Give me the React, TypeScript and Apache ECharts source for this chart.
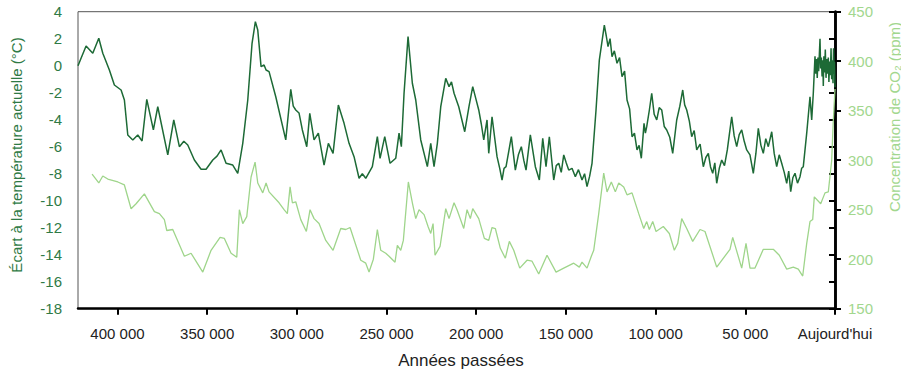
import React, { useEffect, useRef } from "react";
import * as echarts from "echarts";

// Temperature anomaly (°C) vs years before present
const tempYears = [
  422000, 417500, 413760, 410410, 408180, 404510, 401720, 397980, 396140, 394250,
  391460, 388680, 386280, 383660, 379980, 377530, 371950, 368610, 365490, 363000,
  360810, 357130, 353390, 350600, 346870, 344500, 342240, 339460, 335720, 332940,
  330150, 327360, 324970, 323120, 321790, 319950, 318280, 317160, 315490, 311750,
  306180, 303390, 302000, 300610, 298800, 296930, 294480, 292800, 290410, 288010,
  284830, 282430, 279810, 276860, 273680, 270900, 268110, 265320, 263500, 261590,
  257910, 255120, 253620, 251000, 248040, 244870, 243030, 241740, 240240, 238010,
  235610, 233720, 230930, 227250, 225360, 223520, 221680, 219780, 217000, 215160,
  213800, 212370, 209750, 206410, 204000, 201950, 200300, 198600, 197200, 195810,
  193980, 193030, 191190, 188400, 186900, 185610, 184500, 183380, 180430, 178200,
  176500, 174860, 173500, 172240, 169840, 167050, 164820, 162930, 161090, 159250,
  156800, 155400, 154010, 152600, 151220, 149800, 148440, 146600, 144760, 143000,
  141020, 139600, 138240, 136800, 135450, 133220, 131380, 128590, 127500, 126530,
  125400, 124300, 123000, 121510, 120100, 118730, 117300, 115940, 114500, 113150,
  111800, 110370, 109200, 107970, 106460, 105700, 104960, 103500, 102170, 100800,
  99380, 98000, 96600, 95200, 93810, 92100, 90470, 89300, 88240, 86500,
  84890, 83800, 82660, 81200, 79880, 78500, 77090, 75200, 73410, 72000,
  70620, 69400, 68170, 67000, 65940, 64500, 63150, 61600, 60030, 58800,
  57580, 56200, 54790, 53400, 52010, 50600, 49220, 47400, 45540, 44100,
  42750, 41300, 39970, 38600, 37180, 35280, 33900, 32500, 31100, 29710,
  28300, 26920, 25800, 24690, 23500, 22300, 20900, 19510, 18600, 17670,
  15770, 13940, 12990, 12100, 11150, 10700, 10300, 9900, 9500, 9100,
  8700, 8360, 8000, 7600, 7200, 6800, 6520, 6200, 5800, 5400,
  5000, 4600, 4200, 3730, 3400, 3000, 2600, 2200, 1840, 1500,
  1100, 800, 500, 250, 0,
];
const tempValues = [
  0.0, 1.46, 0.92, 2.03, 0.92, -0.32, -1.43, -1.8, -2.54, -5.13,
  -5.5, -5.13, -5.58, -2.49, -4.76, -3.04, -6.61, -4.02, -6.0, -5.6,
  -5.87, -6.99, -7.67, -7.67, -6.99, -6.7, -6.24, -7.23, -7.36, -7.97,
  -5.75, -2.54, 1.66, 3.26, 2.64, -0.07, 0.05, -0.32, -0.44, -2.3,
  -5.5, -1.75, -3.0, -3.28, -3.5, -4.76, -6.0, -3.53, -5.5, -5.0,
  -7.36, -5.75, -6.49, -2.91, -4.27, -5.75, -6.74, -8.34, -8.0, -8.34,
  -7.48, -5.26, -6.86, -5.26, -7.23, -6.86, -5.0, -6.0, -2.04, 2.15,
  -1.3, -2.54, -5.5, -7.48, -5.75, -7.48, -5.75, -3.04, -0.93, -1.55,
  -1.2, -2.04, -3.04, -4.89, -3.0, -1.55, -2.4, -3.28, -4.3, -5.5,
  -4.02, -6.49, -3.78, -6.74, -7.6, -8.47, -7.6, -7.48, -5.26, -7.73,
  -6.6, -6.0, -7.0, -7.73, -5.13, -7.48, -8.47, -5.38, -7.48, -5.26,
  -8.47, -7.4, -7.23, -7.9, -6.61, -7.2, -7.73, -7.6, -8.22, -7.7,
  -8.47, -8.0, -8.96, -8.2, -7.23, -3.28, 0.42, 3.01, 2.2, 1.41,
  2.0, 0.67, 1.1, 0.18, 0.6, -0.81, -0.4, -2.54, -3.2, -5.26,
  -5.0, -6.24, -5.9, -6.86, -4.27, -5.0, -4.52, -3.3, -2.04, -3.6,
  -4.02, -3.1, -3.28, -4.5, -4.76, -5.3, -6.49, -5.2, -4.02, -3.0,
  -1.8, -2.9, -3.28, -4.1, -5.26, -4.8, -6.24, -5.8, -7.48, -6.8,
  -6.49, -7.5, -7.97, -7.2, -8.71, -7.6, -6.99, -7.4, -6.24, -5.0,
  -3.78, -5.2, -6.0, -5.1, -4.76, -5.6, -6.24, -6.6, -7.97, -6.5,
  -4.64, -5.9, -6.49, -5.4, -6.0, -4.89, -6.5, -7.48, -6.6, -7.23,
  -7.9, -8.71, -7.8, -9.33, -8.3, -7.97, -8.7, -8.22, -7.6, -7.48,
  -5.0, -2.3, -4.02, -2.04, 0.7, -0.6, 0.5, -0.9, 0.6, -0.4,
  0.9, 2.0, -0.2, 0.6, -0.8, 0.4, -1.5, 0.7, -0.5, 1.2,
  -0.9, 0.5, -0.6, 0.6, -1.2, 0.3, -0.7, 1.3, -1.0, 0.4,
  -1.3, 1.3, -0.6, 0.3, -1.6,
];

// CO2 concentration (ppm) vs years before present
const co2Years = [
  414150, 410410, 408180, 405400, 399820, 396140, 392410, 389620, 385000, 379420,
  376630, 373850, 372510, 369170, 362700, 358970, 352440, 347820, 342800, 340400,
  336670, 333490, 332040, 330150, 327920, 325520, 323290, 321790, 319000, 317160,
  315490, 309910, 307130, 305290, 303780, 302500, 300610, 297820, 294700, 292640,
  290410, 287620, 283880, 279810, 275520, 272730, 270340, 264370, 261590, 259750,
  257350, 255120, 253230, 250440, 248600, 245260, 243970, 242080, 240630, 237840,
  235610, 233720, 231880, 229090, 226860, 225360, 224070, 222960, 220170, 217000,
  215160, 212370, 210700, 206960, 205120, 203280, 201950, 198600, 195480, 193030,
  191190, 189350, 186560, 183770, 181550, 179090, 175750, 171680, 168890, 165160,
  160530, 155510, 151220, 145650, 142530, 141020, 138240, 135840, 134500, 131710,
  128930, 127090, 124690, 122460, 120570, 117780, 115940, 113150, 109420, 106630,
  104960, 103510, 101610, 99770, 95710, 92360, 89570, 87680, 85450, 82660,
  79320, 75250, 72460, 65940, 58530, 57020, 52010, 49610, 47380, 44590,
  39970, 34390, 31050, 26920, 23240, 20460, 18000, 15770, 13940, 12430,
  11540, 7970, 5570, 3730, 1840, 950, 0,
];
const co2Values = [
  286, 277, 284, 281, 278, 275, 251, 256, 266, 248,
  246, 240, 229, 230, 203, 206, 187, 209, 222, 221,
  206, 202, 250, 236, 243, 283, 298, 277, 267, 277,
  268, 257, 250, 246, 273, 257, 258, 240, 228, 250,
  241, 236, 219, 209, 231, 230, 232, 199, 196, 187,
  200, 230, 209, 206, 203, 197, 214, 209, 219, 278,
  257, 241, 250, 245, 233, 226, 236, 204, 213, 251,
  241, 257, 250, 231, 250, 241, 251, 241, 221, 219,
  232, 231, 211, 201, 218, 209, 191, 199, 198, 185,
  204, 187, 191, 196, 192, 197, 191, 203, 209, 246,
  287, 268, 278, 268, 277, 273, 265, 267, 246, 231,
  238, 230, 238, 228, 233, 226, 209, 216, 241, 231,
  218, 230, 228, 192, 210, 222, 191, 216, 191, 191,
  210, 210, 204, 190, 192, 190, 183, 216, 238, 240,
  263, 256, 267, 268, 300, 340, 372,
];

const xTickValues = [0, 50000, 100000, 150000, 200000, 250000, 300000, 350000, 400000];

const FONT = '"Liberation Sans", Arial, Helvetica, sans-serif';
const TEMP_COLOR = "#1d6a36";
const CO2_COLOR = "#9fd58b";
const LEFT_TEXT = "#2f7a45";
const RIGHT_TEXT = "#a2d78e";

function fmtYear(v: number): string {
  if (v === 0) return "Aujourd'hui";
  const s = String(v);
  return s.replace(/\B(?=(\d{3})+(?!\d))/g, " ");
}

export default function App() {
  const ref = useRef<HTMLDivElement | null>(null);
  useEffect(() => {
    if (!ref.current) return;
    const chart = echarts.init(ref.current, undefined, { renderer: "svg" });
    const tempData = tempYears.map((y, i) => [y, tempValues[i]]);
    const co2Data = co2Years.map((y, i) => [y, co2Values[i]]);
    chart.setOption({
      animation: false,
      backgroundColor: "#ffffff",
      grid: {
        left: 78,
        right: 66,
        top: 11.7,
        bottom: 65.3,
        show: true,
        borderColor: "#555555",
        borderWidth: 1,
        backgroundColor: "transparent",
      },
      xAxis: {
        type: "value",
        inverse: true,
        min: 0,
        max: 422000,
        interval: 50000,
        splitLine: { show: false },
        axisLine: { show: true, onZero: false, lineStyle: { color: "#000", width: 2.5 } },
        axisTick: {
          show: true,
          length: 6,
          customValues: xTickValues,
          lineStyle: { color: "#000", width: 2 },
        },
        axisLabel: {
          customValues: xTickValues,
          formatter: (v: number) => fmtYear(v),
          color: "#222",
          fontSize: 15,
          fontFamily: FONT,
          margin: 17,
        },
      },
      yAxis: [
        {
          type: "value",
          min: -18,
          max: 4,
          interval: 2,
          position: "left",
          splitLine: { show: false },
          axisLine: { show: true, lineStyle: { color: "#000", width: 2.5 } },
          axisTick: { show: true, length: 6, lineStyle: { color: "#000", width: 2 } },
          axisLabel: { color: LEFT_TEXT, fontSize: 15, fontFamily: FONT, margin: 16 },
        },
        {
          type: "value",
          min: 150,
          max: 450,
          interval: 50,
          position: "right",
          splitLine: { show: false },
          axisLine: { show: true, lineStyle: { color: "#000", width: 2.5 } },
          axisTick: { show: true, length: 6, lineStyle: { color: "#000", width: 2 } },
          axisLabel: { color: RIGHT_TEXT, fontSize: 15, fontFamily: FONT, margin: 13 },
        },
      ],
      graphic: [
        {
          type: "text",
          x: 16,
          y: 155,
          rotation: Math.PI / 2,
          style: {
            text: "Écart à la température actuelle (°C)",
            fill: LEFT_TEXT,
            font: `15px ${FONT}`,
            align: "center",
            verticalAlign: "middle",
          },
        },
        {
          type: "text",
          x: 894,
          y: 117,
          rotation: Math.PI / 2,
          style: {
            text: "Concentration de CO₂ (ppm)",
            fill: RIGHT_TEXT,
            font: `15px ${FONT}`,
            align: "center",
            verticalAlign: "middle",
          },
        },
        {
          type: "text",
          x: 461,
          y: 360,
          style: {
            text: "Années passées",
            fill: "#222",
            font: `17px ${FONT}`,
            align: "center",
            verticalAlign: "middle",
          },
        },
      ],
      series: [
        {
          name: "CO2",
          type: "line",
          yAxisIndex: 1,
          data: co2Data,
          showSymbol: false,
          lineStyle: { color: CO2_COLOR, width: 1.3 },
          z: 2,
        },
        {
          name: "Température",
          type: "line",
          yAxisIndex: 0,
          data: tempData,
          showSymbol: false,
          lineStyle: { color: TEMP_COLOR, width: 1.5 },
          z: 3,
        },
      ],
    });
    return () => chart.dispose();
  }, []);
  return (
    <div
      ref={ref}
      style={{ position: "absolute", left: 0, top: 0, width: 901, height: 374 }}
    />
  );
}
